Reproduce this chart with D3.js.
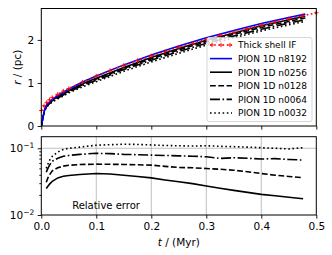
<!DOCTYPE html>
<html>
<head>
<meta charset="utf-8">
<script src="https://cdn.jsdelivr.net/npm/d3@7"></script>
<style>
  body { margin: 0; background: #fff; }
  text { font-family: "DejaVu Sans", sans-serif; }
</style>
</head>
<body>
<div id="chart"></div>
<script>
// radius vs time, top panel
var tSim = [0, 0.003, 0.006, 0.01, 0.02, 0.03, 0.05, 0.075, 0.1, 0.15, 0.2, 0.25, 0.3, 0.35, 0.4, 0.45, 0.48]
var rN8192 = [0, 0.2, 0.38, 0.5, 0.62, 0.71, 0.86, 1.02, 1.16, 1.42, 1.65, 1.86, 2.05, 2.22, 2.38, 2.52, 2.6]
var rN0256 = [0, 0.2, 0.37, 0.48, 0.6, 0.68, 0.82, 0.98, 1.11, 1.36, 1.59, 1.8, 1.99, 2.16, 2.33, 2.47, 2.55]
var rN0128 = [0, 0.2, 0.37, 0.47, 0.59, 0.67, 0.81, 0.96, 1.09, 1.34, 1.56, 1.77, 1.96, 2.13, 2.29, 2.43, 2.51]
var rN0064 = [0, 0.19, 0.36, 0.46, 0.58, 0.65, 0.79, 0.94, 1.06, 1.31, 1.53, 1.73, 1.92, 2.09, 2.25, 2.39, 2.47]
var rN0032 = [0, 0.19, 0.35, 0.45, 0.56, 0.63, 0.77, 0.91, 1.03, 1.27, 1.49, 1.69, 1.88, 2.05, 2.21, 2.35, 2.43]

var tIF = [0, 0.005, 0.01, 0.015, 0.02, 0.03, 0.04, 0.05, 0.075, 0.1, 0.125, 0.15, 0.175, 0.2, 0.225, 0.25, 0.275, 0.3, 0.325, 0.35, 0.375, 0.4, 0.425, 0.45, 0.475, 0.5]
var rIF = [0.36, 0.47, 0.55, 0.61, 0.66, 0.74, 0.81, 0.87, 1.02, 1.16, 1.29, 1.41, 1.52, 1.63, 1.73, 1.83, 1.92, 2.01, 2.1, 2.18, 2.26, 2.34, 2.42, 2.49, 2.56, 2.63]

// relative error, bottom panel
var tErr = [0.009, 0.012, 0.015, 0.02, 0.03, 0.04, 0.05, 0.07, 0.1, 0.125, 0.15, 0.175, 0.2, 0.225, 0.25, 0.275, 0.3, 0.325, 0.35, 0.375, 0.4, 0.425, 0.45, 0.476]
var eN0256 = [0.025, 0.027, 0.029, 0.032, 0.036, 0.038, 0.039, 0.0405, 0.0418, 0.0412, 0.0395, 0.0378, 0.036, 0.0335, 0.0315, 0.0295, 0.0272, 0.0252, 0.0234, 0.0218, 0.0204, 0.0194, 0.0184, 0.0175]
var eN0128 = [0.031, 0.036, 0.04, 0.046, 0.051, 0.054, 0.0555, 0.057, 0.0578, 0.0575, 0.0572, 0.0565, 0.0559, 0.0535, 0.0515, 0.051, 0.0497, 0.0485, 0.0469, 0.0445, 0.0418, 0.0395, 0.0378, 0.0363]
var eN0064 = [0.044, 0.05, 0.056, 0.064, 0.071, 0.076, 0.078, 0.081, 0.084, 0.083, 0.081, 0.08, 0.079, 0.078, 0.077, 0.076, 0.0746, 0.0705, 0.072, 0.071, 0.0689, 0.07, 0.068, 0.0665]
var eN0032 = [0.05, 0.058, 0.066, 0.076, 0.088, 0.096, 0.1, 0.104, 0.111, 0.113, 0.115, 0.114, 0.112, 0.11, 0.109, 0.108, 0.109, 0.107, 0.1057, 0.104, 0.102, 0.1, 0.0976, 0.102]

var xTicks = [0, 0.1, 0.2, 0.3, 0.4, 0.5]
var rTicks = [0, 1, 2]
var legendLabels = ["Thick shell IF", "PION 1D n8192", "PION 1D n0256", "PION 1D n0128", "PION 1D n0064", "PION 1D n0032"]

var W = 332, H = 255
var left = 41.3, right = 316.3
var topY0 = 8.5, topY1 = 126
var botY0 = 136.7, botY1 = 215

var svg = d3.select("#chart").append("svg")
    .attr("width", W)
    .attr("height", H)

var x = d3.scaleLinear().domain([0, 0.5]).range([left, right])
var yR = d3.scaleLinear().domain([0, 2.73]).range([topY1, topY0])
var yE = d3.scaleLog().domain([0.01, 0.149]).range([botY1, botY0])

// line styles
var styles = {
    solid: null,
    dashed: "5.8,2.5",
    dashdot: "10,2.5,1.6,2.5",
    dotted: "1.6,2.6"
}

svg.append("clipPath").attr("id", "clipTop")
    .append("rect").attr("x", left).attr("y", topY0).attr("width", right - left).attr("height", topY1 - topY0)
svg.append("clipPath").attr("id", "clipBot")
    .append("rect").attr("x", left).attr("y", botY0).attr("width", right - left).attr("height", botY1 - botY0)

// grid in bottom panel
var grid = svg.append("g").attr("stroke", "#b0b0b0").attr("stroke-width", 0.8)
xTicks.slice(1, 5).forEach(function (t) {
    grid.append("line").attr("x1", x(t)).attr("x2", x(t)).attr("y1", botY0).attr("y2", botY1)
})
grid.append("line").attr("x1", left).attr("x2", right).attr("y1", yE(0.1)).attr("y2", yE(0.1))

// top panel curves
var topG = svg.append("g").attr("clip-path", "url(#clipTop)")
var lineR = d3.line().x(function (d) { return x(d[0]) }).y(function (d) { return yR(d[1]) })

function zip(a, b) { return a.map(function (v, i) { return [v, b[i]] }) }

var simSeries = [
    { r: rN0032, color: "#000", dash: styles.dotted },
    { r: rN0064, color: "#000", dash: styles.dashdot },
    { r: rN0128, color: "#000", dash: styles.dashed },
    { r: rN0256, color: "#000", dash: styles.solid },
    { r: rN8192, color: "#0000ff", dash: styles.solid }
]
simSeries.forEach(function (s) {
    topG.append("path")
        .attr("d", lineR(zip(tSim, s.r)))
        .attr("fill", "none")
        .attr("stroke", s.color)
        .attr("stroke-width", 1.6)
        .attr("stroke-dasharray", s.dash)
})

topG.append("path")
    .attr("d", lineR(zip(tIF, rIF)))
    .attr("fill", "none")
    .attr("stroke", "#ff0000")
    .attr("stroke-width", 1.6)
    .attr("stroke-dasharray", styles.dotted)

function plus(g, cx, cy) {
    g.append("path")
        .attr("d", "M" + (cx - 2.2) + "," + cy + "h4.4M" + cx + "," + (cy - 2.2) + "v4.4")
        .attr("stroke", "#ff0000")
        .attr("stroke-width", 0.9)
}
var markG = svg.append("g")
tIF.forEach(function (t, i) { plus(markG, x(t), yR(rIF[i])) })

// bottom panel curves
var botG = svg.append("g").attr("clip-path", "url(#clipBot)")
var lineE = d3.line().x(function (d) { return x(d[0]) }).y(function (d) { return yE(d[1]) })
var errSeries = [
    { e: eN0256, dash: styles.solid },
    { e: eN0128, dash: styles.dashed },
    { e: eN0064, dash: styles.dashdot },
    { e: eN0032, dash: styles.dotted }
]
errSeries.forEach(function (s) {
    botG.append("path")
        .attr("d", lineE(zip(tErr, s.e)))
        .attr("fill", "none")
        .attr("stroke", "#000")
        .attr("stroke-width", 1.6)
        .attr("stroke-dasharray", s.dash)
})

svg.append("text")
    .attr("x", 106).attr("y", 209)
    .attr("text-anchor", "middle")
    .attr("font-size", "10px")
    .text("Relative error")

// axes
function styleAxis(g) {
    g.select(".domain").remove()
    g.selectAll(".tick line").attr("stroke", "#000").attr("stroke-width", 0.9)
    g.selectAll(".tick text").attr("fill", "#000").style("font-size", "10.5px").style("font-family", "DejaVu Sans")
}

svg.append("g")
    .attr("transform", "translate(0," + topY1 + ")")
    .call(d3.axisBottom(x).tickValues(xTicks).tickSize(3.6).tickFormat(""))
    .call(styleAxis)

svg.append("g")
    .attr("transform", "translate(" + left + ",0)")
    .call(d3.axisLeft(yR).tickValues(rTicks).tickSize(3.6).tickPadding(3.6).tickFormat(d3.format("d")))
    .call(styleAxis)

svg.append("g")
    .attr("transform", "translate(0," + botY1 + ")")
    .call(d3.axisBottom(x).tickValues(xTicks).tickSize(3.6).tickPadding(3.6).tickFormat(d3.format(".1f")))
    .call(styleAxis)

var minor = d3.range(2, 10).map(function (k) { return k / 100 })
svg.append("g")
    .attr("transform", "translate(" + left + ",0)")
    .call(d3.axisLeft(yE).tickValues(minor).tickSize(2).tickFormat(""))
    .call(styleAxis)

var yEaxis = svg.append("g")
    .attr("transform", "translate(" + left + ",0)")
    .call(d3.axisLeft(yE).tickValues([0.01, 0.1]).tickSize(3.6).tickFormat(""))
    .call(styleAxis)

;[[0.1, "\u22121"], [0.01, "\u22122"]].forEach(function (p) {
    var t = svg.append("text")
        .attr("x", left - 7)
        .attr("y", yE(p[0]) + 4)
        .attr("text-anchor", "end")
        .attr("font-size", "10.5px")
    t.append("tspan").text("10")
    t.append("tspan").attr("dy", -4.5).attr("font-size", "7.5px").text(p[1])
})

// spines
svg.append("rect").attr("x", left).attr("y", topY0).attr("width", right - left).attr("height", topY1 - topY0)
    .attr("fill", "none").attr("stroke", "#000").attr("stroke-width", 1)
svg.append("rect").attr("x", left).attr("y", botY0).attr("width", right - left).attr("height", botY1 - botY0)
    .attr("fill", "none").attr("stroke", "#000").attr("stroke-width", 1)

// axis labels
var yl = svg.append("text")
    .attr("transform", "translate(21," + ((topY0 + topY1) / 2) + ") rotate(-90)")
    .attr("text-anchor", "middle")
    .attr("font-size", "10.5px")
yl.append("tspan").attr("font-style", "italic").text("r")
yl.append("tspan").text(" / (pc)")

var xl = svg.append("text")
    .attr("x", (left + right) / 2)
    .attr("y", 246)
    .attr("text-anchor", "middle")
    .attr("font-size", "10.5px")
xl.append("tspan").attr("font-style", "italic").text("t")
xl.append("tspan").text(" / (Myr)")

// legend
var lg = svg.append("g")
lg.append("rect")
    .attr("x", 207).attr("y", 37.5).attr("width", 105).attr("height", 84)
    .attr("rx", 2)
    .attr("fill", "#fff").attr("fill-opacity", 0.8)
    .attr("stroke", "#cccccc").attr("stroke-width", 0.8)

var legStyles = [
    { color: "#ff0000", dash: styles.dotted, marker: true },
    { color: "#0000ff", dash: styles.solid },
    { color: "#000", dash: styles.solid },
    { color: "#000", dash: styles.dashed },
    { color: "#000", dash: styles.dashdot },
    { color: "#000", dash: styles.dotted }
]
legendLabels.forEach(function (lab, i) {
    var yy = 45 + i * 13.6
    var st = legStyles[i]
    lg.append("line")
        .attr("x1", 210).attr("x2", 232).attr("y1", yy).attr("y2", yy)
        .attr("stroke", st.color).attr("stroke-width", 1.6)
        .attr("stroke-dasharray", st.dash)
    if (st.marker) {
        plus(lg, 212, yy); plus(lg, 221, yy); plus(lg, 230, yy)
    }
    lg.append("text")
        .attr("x", 238).attr("y", yy + 3.3)
        .attr("font-size", "9px")
        .text(lab)
})
</script>
</body>
</html>
